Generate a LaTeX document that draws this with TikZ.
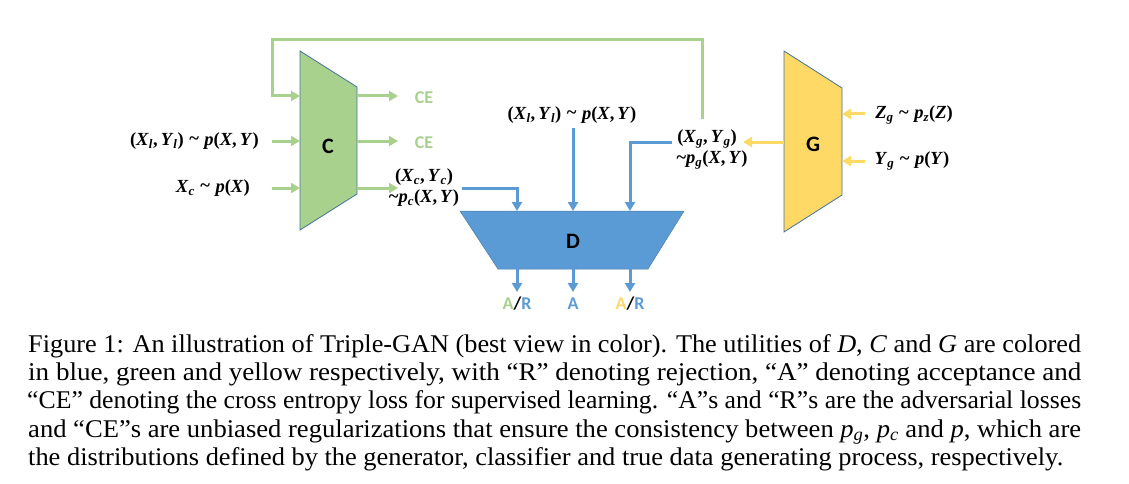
\documentclass[tikz,border=0pt]{standalone}
\usepackage{fontspec}
\usetikzlibrary{arrows.meta}
\newfontfamily\cali{Carlito}
\newfontfamily\capfont[Ligatures=TeX]{Liberation Serif}
\newfontfamily\lf{Liberation Serif}
\definecolor{cgreen}{RGB}{169,209,142}
\definecolor{cblue}{RGB}{91,155,213}
\definecolor{cyellow}{RGB}{255,217,102}
\definecolor{cedge}{RGB}{65,113,156}
\newsavebox\capbox
\newlength\caplen
\newcommand\capline[2]{\sbox\capbox{\capfont\fontsize{25.5}{28}\selectfont #2}\setlength\caplen{\wd\capbox}\pgfmathsetmacro\capr{#1/\caplen}\scalebox{\capr}[1]{\usebox\capbox}}
\newcommand\capit[1]{\textit{#1}}
\newcommand\V[1]{\textit{#1}}
\newcommand\sub[1]{\textsubscript{\textit{#1}}}
\newcommand\tl{\hspace{0.3em}\raisebox{0.03em}{\textasciitilde}\hspace{0.3em}}
\begin{document}
\begin{tikzpicture}[x=1pt,y=-1pt,
  tip/.style={-{Triangle[length=9pt,width=10pt]}},
  garrow/.style={draw=cgreen, line width=3pt, tip},
  barrow/.style={draw=cblue, line width=3pt, tip},
  yarrow/.style={draw=cyellow, line width=3pt, tip},
  block/.style={draw=cedge, line width=0.8pt},
  mlabel/.style={inner sep=0, font=\lf\bfseries\fontsize{18.5}{22}\selectfont},
  blabel/.style={inner sep=0, font=\cali\bfseries\fontsize{22}{26}\selectfont},
  olabel/.style={inner sep=0, font=\cali\bfseries\fontsize{18}{22}\selectfont},
  capl/.style={anchor=base west, inner sep=0}
]
\useasboundingbox (0,0) rectangle (1129,484);

% blocks
\fill[cgreen] (300,51) -- (357,87) -- (357,194) -- (300,230) -- cycle;
\draw[block] (300,51) -- (357,87) -- (357,194) -- (300,230) -- cycle;
\fill[cyellow] (784,51) -- (842,88) -- (842,195) -- (784,232) -- cycle;
\draw[block] (784,51) -- (842,88) -- (842,195) -- (784,232) -- cycle;
\fill[cblue] (460,211) -- (684,211) -- (648,269) -- (498,269) -- cycle;
\draw[block, draw=cblue!80!black, line width=0.5pt] (460,211) -- (684,211) -- (648,269) -- (498,269) -- cycle;

\node[blabel] (C) at (328,146) {C};
\node[blabel] (G) at (813,144) {G};
\node[blabel] (D) at (573,241) {D};

% ports
\coordinate (cin1) at (300,96);
\coordinate (cin2) at (300,141);
\coordinate (cin3) at (300,188);
\coordinate (cout1) at (357,96);
\coordinate (cout2) at (357,141);
\coordinate (cout3) at (357,188);
\coordinate (din1) at (517,211);
\coordinate (din2) at (573,211);
\coordinate (din3) at (630,211);
\coordinate (dout1) at (517,269);
\coordinate (dout2) at (573,269);
\coordinate (dout3) at (630,269);
\coordinate (gout) at (784,142);
\coordinate (gin1) at (842,114);
\coordinate (gin2) at (842,161);

% labels
\node[mlabel, anchor=east] (xl) at (259,141) {(\V{X}\sub{l},\,\V{Y}\sub{l})\tl\V{p}(\V{X},\,\V{Y})};
\node[mlabel, anchor=east] (xc) at (250,188) {\V{X}\sub{c}\tl\V{p}(\V{X})};
\node[mlabel] (xcyc) at (424,177) {(\V{X}\sub{c},\,\V{Y}\sub{c})};
\node[mlabel] (pc) at (424,198) {\textasciitilde\V{p}\sub{c}(\V{X},\,\V{Y})};
\node[mlabel] (xlm) at (572,115) {(\V{X}\sub{l},\,\V{Y}\sub{l})\tl\V{p}(\V{X},\,\V{Y})};
\node[mlabel] (xgyg) at (707,139) {(\V{X}\sub{g},\,\V{Y}\sub{g})};
\node[mlabel] (pg) at (712,160) {\textasciitilde\V{p}\sub{g}(\V{X},\,\V{Y})};
\node[mlabel] (zg) at (914,115) {\V{Z}\sub{g}\tl\V{p}\sub{z}(\V{Z})};
\node[mlabel] (yg) at (912,161) {\V{Y}\sub{g}\tl\V{p}(\V{Y})};

\node[olabel, text=cgreen] (ce1) at (424,98) {CE};
\node[olabel, text=cgreen] (ce2) at (424,143) {CE};
\node[olabel] (ar1) at (517,304) {\textcolor{cgreen}{A}\textcolor{black}{/}\textcolor{cblue}{R}};
\node[olabel, text=cblue] (a2) at (573,304) {A};
\node[olabel] (ar3) at (630,304) {\textcolor{cyellow}{A}\textcolor{black}{/}\textcolor{cblue}{R}};

% green connectors
\coordinate (loopstart) at (702,119);
\draw[garrow] (loopstart) -- (702,40) -- (272,40) -- (272,96) -- (cin1);
\draw[garrow] (272,141) -- (cin2);
\draw[garrow] (272,188) -- (cin3);
\draw[garrow] (cout1) -- (398,96);
\draw[garrow] (cout2) -- (398,141);
\draw[garrow] (cout3) -- (398,188);

% blue connectors
\draw[barrow] (462,188) -- (517,188) -- (din1);
\draw[barrow] (573,128) -- (din2);
\draw[barrow] (672,142) -- (630,142) -- (din3);
\draw[barrow] (dout1) -- (517,292);
\draw[barrow] (dout2) -- (573,292);
\draw[barrow] (dout3) -- (630,292);

% yellow connectors
\draw[yarrow] (gout) -- (743,142);
\draw[yarrow] (865,114) -- (gin1);
\draw[yarrow] (865,161) -- (gin2);

% caption
\node[capl] (cap1) at (28,352) {\capline{1053}{Figure 1: An illustration of Triple-GAN (best view in color). The utilities of \capit{D}, \capit{C} and \capit{G} are colored}};
\node[capl] (cap2) at (28,380) {\capline{1053}{in blue, green and yellow respectively, with “R” denoting rejection, “A” denoting acceptance and}};
\node[capl] (cap3) at (27,408) {\capline{1054}{“CE” denoting the cross entropy loss for supervised learning. “A”s and “R”s are the adversarial losses}};
\node[capl] (cap4) at (28,437) {\capline{1053}{and “CE”s are unbiased regularizations that ensure the consistency between \capit{p}\textsubscript{\capit{g}}, \capit{p}\textsubscript{\capit{c}} and \capit{p}, which are}};
\node[capl] (cap5) at (28,465) {\capline{1035}{the distributions defined by the generator, classifier and true data generating process, respectively.}};
\end{tikzpicture}
\end{document}
